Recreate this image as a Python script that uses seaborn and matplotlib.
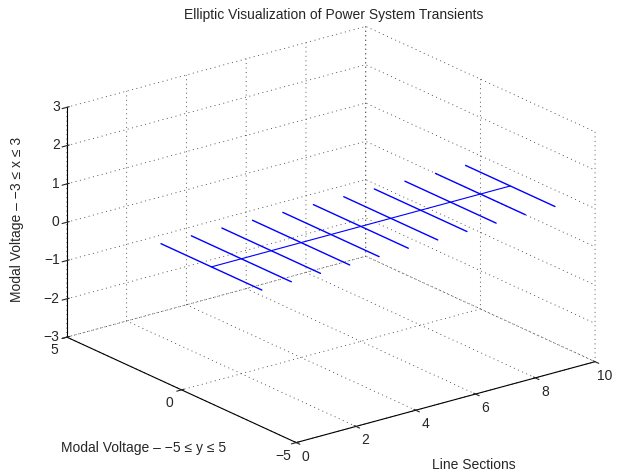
import numpy as np
import matplotlib
matplotlib.use("Agg")
import matplotlib.pyplot as plt
import seaborn as sns

sns.set_style("white")
plt.rcParams["font.family"] = ["Liberation Sans", "DejaVu Sans"]
plt.rcParams["grid.color"] = "0.25"
plt.rcParams["grid.linestyle"] = (0, (1.2, 4.2))
plt.rcParams["grid.linewidth"] = 0.6

# line sections along the feeder and the half-span of each transverse trace
sections = [1, 2, 3, 4, 5, 6, 7, 8, 9, 10, 11]
half_span = [2.20, 2.18, 2.15, 2.12, 2.10, 2.07, 2.05, 2.02, 1.99, 1.96, 1.95]
x_ticks = [0, 2, 4, 6, 8, 10]
y_ticks = [-5, 0, 5]
z_ticks = [-3, -2, -1, 0, 1, 2, 3]

fig = plt.figure(figsize=(6.18, 4.73), dpi=100)
ax = fig.add_axes([0.0252, -0.0093, 1, 1], projection="3d")
ax.set_proj_type("ortho")
ax.view_init(elev=20.66, azim=-127.5)
ax.set_box_aspect((1, 1, 0.652), zoom=1.204)

# transverse traces at each section, joined by the longitudinal axis line
for xs, h in zip(sections, half_span):
    ax.plot([xs, xs], [-h, h], [0, 0], color="#0000ff", lw=1.0)
ax.plot([sections[0], sections[-1]], [0, 0], [0, 0], color="#0000ff", lw=0.8)

ax.set_xlim(0, 10, view_margin=0)
ax.set_ylim(-5, 5, view_margin=0)
ax.set_zlim(-3, 3, view_margin=0)
ax.set_xticks(x_ticks)
ax.set_yticks(y_ticks)
ax.set_zticks(z_ticks)

for axis in (ax.xaxis, ax.yaxis, ax.zaxis):
    axis.set_pane_color((1, 1, 1, 0))
    axis.pane.set_edgecolor((1, 1, 1, 0))
    axis.line.set_color("k")
    axis.line.set_linewidth(0.8)
ax.tick_params(labelsize=10)
ax.tick_params(axis="x", pad=-0.6)
ax.tick_params(axis="y", pad=-0.6)
ax.tick_params(axis="z", pad=-5.6)
plt.setp(ax.get_xticklabels(), va="center")
plt.setp(ax.get_yticklabels(), va="center")
plt.setp(ax.get_zticklabels(), ha="right", va="center")

fig.text(0.54, 0.968, "Elliptic Visualization of Power System Transients",
         ha="center", va="center", fontsize=10)
fig.text(0.028, 0.536, "Modal Voltage \u2013 \u22123 \u2264 x \u2264 3",
         rotation=90, ha="center", va="center", fontsize=10)
fig.text(0.233, 0.053, "Modal Voltage \u2013 \u22125 \u2264 y \u2264 5",
         ha="center", va="center", fontsize=10)
fig.text(0.766, 0.016, "Line Sections", ha="center", va="center", fontsize=10)

fig.savefig("out.png", dpi=100)
